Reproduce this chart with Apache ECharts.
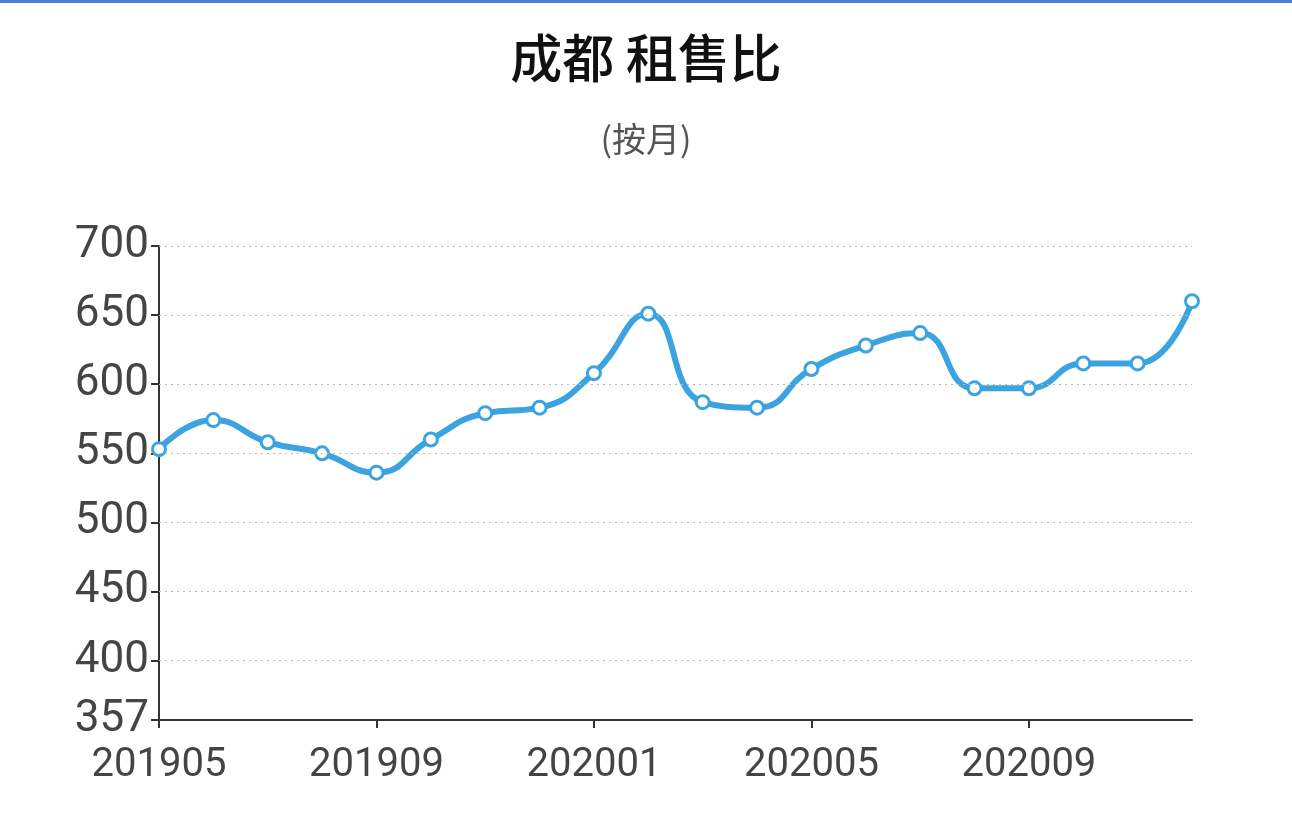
<!DOCTYPE html>
<html><head><meta charset="utf-8">
<script src="https://cdn.jsdelivr.net/npm/echarts@6/dist/echarts.min.js"></script>
<style>html,body{margin:0;padding:0;background:#fff}#c{width:1292px;height:820px;border-top:3px solid #4a7fd6;box-sizing:border-box}</style>
</head><body><div id="c"></div>
<script>
const months = ["201905","201906","201907","201908","201909","201910","201911","201912","202001","202002","202003","202004","202005","202006","202007","202008","202009","202010","202011","202012"];
const ratio = [553,574,558,550,536,560,579,583,608,651,587,583,611,628,637,597,597,615,615,660];
const yTicks = [357,400,450,500,550,600,650,700];
const gridLines = [400,450,500,550,600,650,700];
const chart = echarts.init(document.getElementById('c'));
chart.setOption({
  animation:false,
  title:{text:'成都 租售比',subtext:'(按月)',left:'center',top:24,itemGap:38,
    textStyle:{fontSize:52,fontWeight:500,color:'#111',fontFamily:'Noto Sans CJK SC'},
    subtextStyle:{fontSize:34,color:'#555',fontFamily:'Noto Sans CJK SC'}},
  grid:{left:159,right:100,top:243,bottom:100},
  xAxis:{type:'category',data:months,boundaryGap:false,
    axisLine:{lineStyle:{color:'#333',width:2}},
    axisTick:{interval:3,length:8,lineStyle:{color:'#333',width:2}},
    axisLabel:{interval:3,fontSize:40,color:'#444',margin:26,fontFamily:'Roboto'}},
  yAxis:{type:'value',min:357,max:700,
    axisLine:{show:true,lineStyle:{color:'#333',width:2}},
    axisTick:{show:true,customValues:yTicks,length:8,lineStyle:{color:'#333',width:2}},
    axisLabel:{customValues:yTicks,fontSize:44,color:'#444',margin:10,fontFamily:'Roboto'},
    splitLine:{show:false}},
  series:[{type:'line',data:ratio,smooth:0.5,symbol:'circle',symbolSize:13,
    lineStyle:{color:'#3aa3e0',width:6},
    itemStyle:{color:'#fff',borderColor:'#3aa3e0',borderWidth:3},
    markLine:{silent:true,symbol:'none',label:{show:false},
      lineStyle:{color:'#bbb',type:[2,4],width:1},
      data:gridLines.map(v=>({yAxis:v}))}}]
});
</script></body></html>
